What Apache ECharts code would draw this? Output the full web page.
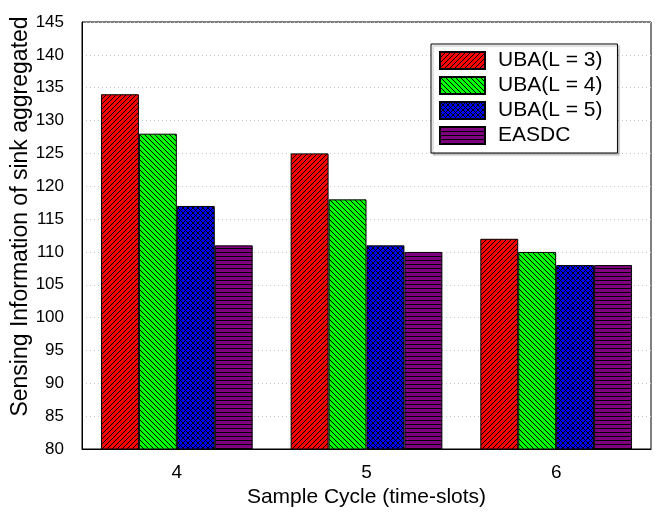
<!DOCTYPE html>
<html>
<head>
<meta charset="utf-8">
<script src="https://cdn.jsdelivr.net/npm/echarts@6/dist/echarts.min.js"></script>
<style>html,body{margin:0;padding:0;background:#fff;}#c{width:655px;height:516px;}</style>
</head>
<body>
<div id="c"></div>
<script>
const categories = ['4', '5', '6'];
const seriesNames = ['UBA(L = 3)', 'UBA(L = 4)', 'UBA(L = 5)', 'EASDC'];
const uba3 = [134, 125, 112];
const uba4 = [128, 118, 110];
const uba5 = [117, 111, 108];
const easdc = [111, 110, 108];
const yTicks = [80, 145, 5];

function makePattern(bg, test, size) {
  const c = document.createElement('canvas');
  c.width = size; c.height = size;
  const ctx = c.getContext('2d');
  ctx.fillStyle = bg; ctx.fillRect(0, 0, size, size);
  ctx.fillStyle = '#000';
  for (let y = 0; y < size; y++) for (let x = 0; x < size; x++) if (test(x, y)) ctx.fillRect(x, y, 1, 1);
  return { image: c, repeat: 'repeat' };
}
const mod = (a, n) => ((a % n) + n) % n;
const pRed = makePattern('#ff0000', (x, y) => mod(x + y, 5) === 0, 20);
const pGreen = makePattern('#00ff00', (x, y) => mod(x - y, 5) === 0, 20);
const pBlue = makePattern('#0000ff', (x, y) => mod(x + y, 5) === 0 || mod(x - y, 5) === 0, 20);
const pPurple = makePattern('#800080', (x, y) => mod(y, 4) === 0, 20);

const fills = [pRed, pGreen, pBlue, pPurple];
const values = [uba3, uba4, uba5, easdc];
const font = 'Liberation Sans, Arial, sans-serif';

const chart = echarts.init(document.getElementById('c'), null, { renderer: 'canvas' });
chart.setOption({
  animation: false,
  backgroundColor: '#fff',
  textStyle: { fontFamily: font, color: '#000' },
  grid: { left: 82, right: 4, top: 22, bottom: 67, containLabel: false, outerBoundsMode: 'none', show: true, borderColor: '#000', borderWidth: 1, backgroundColor: 'transparent' },
  legend: {
    left: 431, top: 44, orient: 'vertical',
    icon: 'rect',
    itemWidth: 45, itemHeight: 17, itemGap: 4,
    padding: [6, 15, 7, 8],
    borderColor: '#000', borderWidth: 1, backgroundColor: '#fff',
    shadowColor: 'rgba(0,0,0,0.25)', shadowOffsetX: 2, shadowOffsetY: 2, shadowBlur: 1,
    textStyle: { fontFamily: font, fontSize: 21, color: '#000', lineHeight: 21, padding: [0, 0, 0, 8] },
    data: seriesNames
  },
  xAxis: {
    type: 'category', data: categories,
    axisLine: { lineStyle: { color: '#000', width: 1 } },
    axisTick: { show: false },
    axisLabel: { fontSize: 19, color: '#000', margin: 14, fontFamily: font },
    name: 'Sample Cycle (time-slots)', nameLocation: 'middle', nameGap: 38, nameMoveOverlap: false,
    nameTextStyle: { fontSize: 21, color: '#000', fontFamily: font }
  },
  yAxis: {
    type: 'value', min: yTicks[0], max: yTicks[1], interval: yTicks[2],
    axisLine: { show: true, lineStyle: { color: '#000', width: 1 } },
    axisTick: { show: false },
    axisLabel: { fontSize: 17, color: '#000', margin: 18, fontFamily: font },
    splitLine: { lineStyle: { color: '#c8c8c8', type: [1, 3], width: 1 } },
    name: 'Sensing Information of sink aggregated', nameLocation: 'middle', nameGap: 50, nameMoveOverlap: false,
    nameTextStyle: { fontSize: 23, color: '#000', fontFamily: font, padding: [0, 0, 0, 38] }
  },
  series: seriesNames.map((n, i) => ({
    name: n, type: 'bar', data: values[i],
    barGap: 0, barCategoryGap: '20%',
    itemStyle: { color: fills[i], borderColor: '#000', borderWidth: 1 }
  }))
});
</script>
</body>
</html>
